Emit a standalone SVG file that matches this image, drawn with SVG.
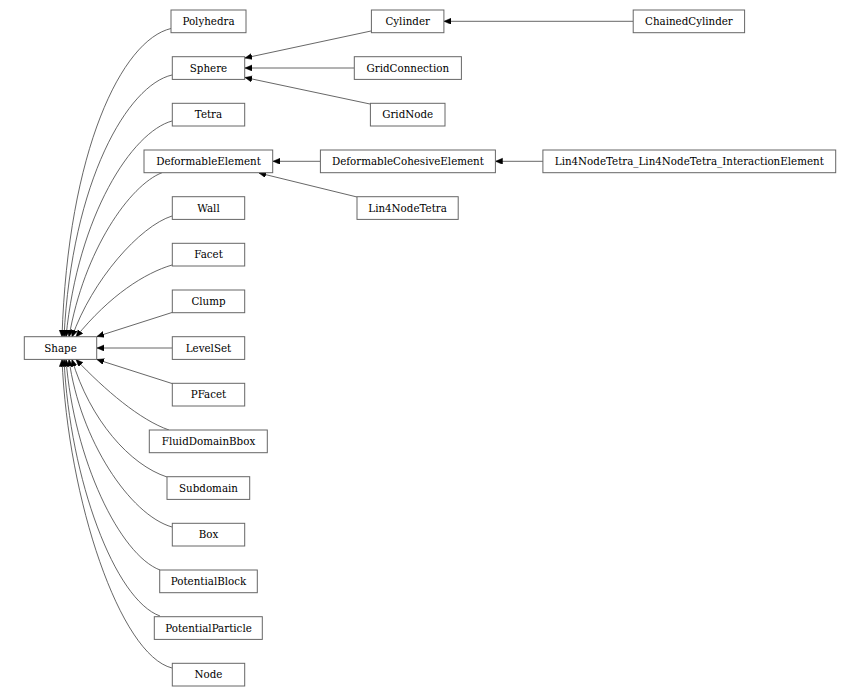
<svg xmlns="http://www.w3.org/2000/svg" width="860" height="696" viewBox="0 0 860 696">
<style>
.n rect{fill:#fff;stroke:#666;stroke-width:1}
.n text{font-family:"DejaVu Serif","Liberation Serif",serif;font-size:10.3px;fill:#000;text-anchor:middle}
.e path{fill:none;stroke:#404040;stroke-width:0.8}
</style>
<defs>
<marker id="ah" markerUnits="userSpaceOnUse" markerWidth="10" markerHeight="10" refX="7" refY="3" orient="auto">
<path d="M0,0 L7,3 L0,6 Z" fill="#000" stroke="#000" stroke-width="0.5"/>
</marker>
</defs>
<rect width="860" height="696" fill="#fff"/>
<g class="e" id="edges">
<path d="M171,28.5 C122,40 68,150 62,337" marker-end="url(#ah)"/>
<path d="M172,75 C128,85 72,180 64,337" marker-end="url(#ah)"/>
<path d="M172,121 C132,132 78,215 66,337" marker-end="url(#ah)"/>
<path d="M162,172.7 C130,185 84,250 69,337" marker-end="url(#ah)"/>
<path d="M172,216 C140,226 92,280 72,337" marker-end="url(#ah)"/>
<path d="M172,265 C145,273 110,295 76,337" marker-end="url(#ah)"/>
<path d="M172,312.5 L97,336.5" marker-end="url(#ah)"/>
<path d="M172,348 L97,348" marker-end="url(#ah)"/>
<path d="M172,383.5 L97,359.5" marker-end="url(#ah)"/>
<path d="M169,430 C140,420 105,390 76,359.5" marker-end="url(#ah)"/>
<path d="M167,477 C130,465 90,420 72,359.5" marker-end="url(#ah)"/>
<path d="M172,527 C130,515 80,440 69,359.5" marker-end="url(#ah)"/>
<path d="M160,570 C120,555 74,460 66,359.5" marker-end="url(#ah)"/>
<path d="M160,616 C115,600 70,480 64,359.5" marker-end="url(#ah)"/>
<path d="M172,668 C120,655 68,500 62,359.5" marker-end="url(#ah)"/>
<path d="M371,31 L245,58" marker-end="url(#ah)"/>
<path d="M354,68 L245,68" marker-end="url(#ah)"/>
<path d="M370,104 L245,77.5" marker-end="url(#ah)"/>
<path d="M633,21.3 L444,21.3" marker-end="url(#ah)"/>
<path d="M320,161.3 L273,161.3" marker-end="url(#ah)"/>
<path d="M357,197 L259,173" marker-end="url(#ah)"/>
<path d="M543,161.3 L495.5,161.3" marker-end="url(#ah)"/>
</g>
<g class="n" id="Polyhedra"><rect x="171" y="10" width="75" height="22.7"/><text x="208.5" y="24.9">Polyhedra</text></g>
<g class="n" id="Sphere"><rect x="172.3" y="56.7" width="72.4" height="22.7"/><text x="208.5" y="71.6">Sphere</text></g>
<g class="n" id="Tetra"><rect x="172.3" y="103.3" width="72.4" height="22.7"/><text x="208.5" y="118.2">Tetra</text></g>
<g class="n" id="DeformableElement"><rect x="144" y="150" width="128.7" height="22.7"/><text x="208.5" y="164.9">DeformableElement</text></g>
<g class="n" id="Wall"><rect x="172.3" y="196.7" width="72.4" height="22.7"/><text x="208.5" y="211.6">Wall</text></g>
<g class="n" id="Facet"><rect x="172.3" y="243.3" width="72.4" height="22.7"/><text x="208.5" y="258.2">Facet</text></g>
<g class="n" id="Clump"><rect x="172.3" y="290" width="72.4" height="22.7"/><text x="208.5" y="304.9">Clump</text></g>
<g class="n" id="Shape"><rect x="24.3" y="336.7" width="72.4" height="22.7"/><text x="60.5" y="351.6">Shape</text></g>
<g class="n" id="LevelSet"><rect x="172.3" y="336.7" width="72.4" height="22.7"/><text x="208.5" y="351.6">LevelSet</text></g>
<g class="n" id="PFacet"><rect x="172.3" y="383.3" width="72.4" height="22.7"/><text x="208.5" y="398.2">PFacet</text></g>
<g class="n" id="FluidDomainBbox"><rect x="149.3" y="430" width="118" height="22.7"/><text x="208.5" y="444.9">FluidDomainBbox</text></g>
<g class="n" id="Subdomain"><rect x="167" y="476.7" width="82.7" height="22.7"/><text x="208.5" y="491.6">Subdomain</text></g>
<g class="n" id="Box"><rect x="172.3" y="523.3" width="72.4" height="22.7"/><text x="208.5" y="538.2">Box</text></g>
<g class="n" id="PotentialBlock"><rect x="159.7" y="570" width="97.6" height="22.7"/><text x="208.5" y="584.9">PotentialBlock</text></g>
<g class="n" id="PotentialParticle"><rect x="154.3" y="616.7" width="108" height="22.7"/><text x="208.5" y="631.6">PotentialParticle</text></g>
<g class="n" id="Node"><rect x="172.3" y="663.3" width="72.4" height="22.7"/><text x="208.5" y="678.2">Node</text></g>
<g class="n" id="Cylinder"><rect x="371.4" y="10" width="72.5" height="22.7"/><text x="407.7" y="24.9">Cylinder</text></g>
<g class="n" id="GridConnection"><rect x="354.3" y="56.7" width="107.1" height="22.7"/><text x="407.8" y="71.6">GridConnection</text></g>
<g class="n" id="GridNode"><rect x="370.4" y="103.3" width="74.6" height="22.7"/><text x="407.7" y="118.2">GridNode</text></g>
<g class="n" id="DeformableCohesiveElement"><rect x="320.4" y="150" width="175" height="22.7"/><text x="407.9" y="164.9">DeformableCohesiveElement</text></g>
<g class="n" id="Lin4NodeTetra"><rect x="357" y="196.7" width="101.2" height="22.7"/><text x="407.6" y="211.6">Lin4NodeTetra</text></g>
<g class="n" id="ChainedCylinder"><rect x="633.2" y="10" width="111.4" height="22.7"/><text x="688.9" y="24.9">ChainedCylinder</text></g>
<g class="n" id="Lin4NodeTetra_Lin4NodeTetra_InteractionElement"><rect x="542.9" y="150" width="292.8" height="22.7"/><text x="689.3" y="164.9">Lin4NodeTetra_Lin4NodeTetra_InteractionElement</text></g>
</svg>
